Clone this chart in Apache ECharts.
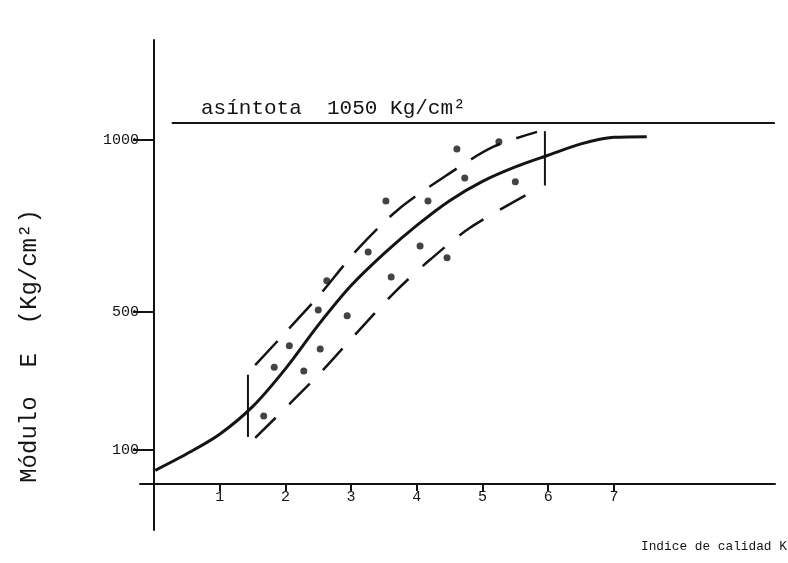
<!DOCTYPE html>
<html><head><meta charset="utf-8">
<script src="https://cdn.jsdelivr.net/npm/echarts@6/dist/echarts.min.js"></script>
<style>html,body{margin:0;padding:0;background:#fff}#c{width:788px;height:563px}</style>
</head><body><div id="c"></div>
<script>
// ---- data ----
const xTicks = [1, 2, 3, 4, 5, 6, 7];
const yTicks = [100, 500, 1000];
const asymptoteValue = 1050;
const asymptoteSpan = [0.27, 9.45];
const asymptoteText = 'asíntota  1050 Kg/cm²';
const xName = 'Indice de calidad K';
const yName = 'Módulo  E  (Kg/cm²)';

const curveK = [0.02, 0.5, 1.0, 1.5, 2.0, 2.5, 3.0, 3.5, 4.0, 4.5, 5.0, 5.5, 6.0, 6.5, 7.0, 7.5];
const curveE = [40, 88, 145, 225, 335, 462, 577, 670, 752, 824, 880, 922, 956, 989, 1008, 1010];

const upperK = [1.54, 2.48, 3.09, 3.71, 4.48, 5.16, 5.83];
const upperE = [346, 541, 681, 797, 901, 980, 1024];

const lowerK = [1.54, 2.50, 3.03, 3.67, 4.20, 4.81, 5.80];
const lowerE = [134, 317, 428, 559, 652, 745, 855];

const leftBarK = 1.43, leftBarE = [318, 137];
const rightBarK = 5.95, rightBarE = [1026, 868];

const pointsK = [1.67, 1.83, 2.06, 2.28, 2.53, 2.50, 2.94, 2.63, 3.26, 3.61, 3.53, 4.05, 4.17, 4.46, 4.61, 4.73, 5.25, 5.50];
const pointsE = [198, 340, 402, 329, 393, 506, 489, 591, 675, 602, 823, 692, 823, 658, 974, 890, 995, 879];

// ---- build ----
const zip = (a, b) => a.map((v, i) => [v, b[i]]);
const ink = '#141414';
const mono = '"Liberation Mono", "DejaVu Sans Mono", monospace';
const yMin = -133.5, yMax = 1291;
const gridTop = 40, gridBottom = 33, H = 563;
// offset that puts the bottom-positioned x axis on the value 0 of the y axis
const plotH = H - gridTop - gridBottom;
const zeroPx = gridTop + (yMax - 0) / (yMax - yMin) * plotH;
const xOffset = zeroPx - (H - gridBottom);

const chart = echarts.init(document.getElementById('c'), null, {renderer: 'canvas'});
chart.setOption({
  animation: false,
  backgroundColor: '#fff',
  grid: {left: 140, right: 13, top: gridTop, bottom: gridBottom},
  title: [
    {text: asymptoteText, left: 196, top: 93, textStyle: {fontFamily: mono, fontSize: 21, fontWeight: 'normal', color: ink}},
    {text: xName, left: 636, top: 535, textStyle: {fontFamily: mono, fontSize: 12.8, fontWeight: 'normal', color: ink}}
  ],
  graphic: [
    {type: 'text', x: 30, y: 346, rotation: Math.PI / 2,
     style: {text: yName, align: 'center', verticalAlign: 'middle', fill: ink,
             font: '24px "Liberation Mono", "DejaVu Sans Mono", monospace'}}
  ],
  xAxis: {
    type: 'value', min: -0.213, max: 9.452, position: 'bottom', offset: xOffset,
    axisLine: {onZero: false, lineStyle: {color: ink, width: 2}},
    axisTick: {show: true, customValues: xTicks, length: 7, lineStyle: {color: ink, width: 2}},
    axisLabel: {customValues: xTicks, margin: 5, fontFamily: mono, fontSize: 15, color: ink},
    splitLine: {show: false}
  },
  yAxis: {
    type: 'value', min: yMin, max: yMax,
    axisLine: {onZero: true, lineStyle: {color: ink, width: 2}},
    axisTick: {show: true, customValues: yTicks, length: 21, lineStyle: {color: ink, width: 2}},
    axisLabel: {customValues: yTicks, margin: 1, fontFamily: mono, fontSize: 15, color: ink,
                formatter: v => String(v)},
    splitLine: {show: false}
  },
  series: [
    {type: 'line', data: zip(asymptoteSpan, asymptoteSpan.map(() => asymptoteValue)), symbol: 'none',
     lineStyle: {color: ink, width: 2}},
    {type: 'line', data: zip(curveK, curveE), smooth: 0.3, symbol: 'none',
     lineStyle: {color: ink, width: 3}},
    {type: 'line', data: zip(upperK, upperE), smooth: 0.3, symbol: 'none',
     lineStyle: {color: ink, width: 2.5, type: [33, 17]}},
    {type: 'line', data: zip(lowerK, lowerE), smooth: 0.3, symbol: 'none',
     lineStyle: {color: ink, width: 2.5, type: [29, 19]}},
    {type: 'line', data: zip([leftBarK, leftBarK], leftBarE), symbol: 'none',
     lineStyle: {color: ink, width: 2}},
    {type: 'line', data: zip([rightBarK, rightBarK], rightBarE), symbol: 'none',
     lineStyle: {color: ink, width: 2}},
    {type: 'scatter', data: zip(pointsK, pointsE), symbol: 'circle', symbolSize: 7,
     itemStyle: {color: ink}}
  ]
});
</script>
</body></html>
